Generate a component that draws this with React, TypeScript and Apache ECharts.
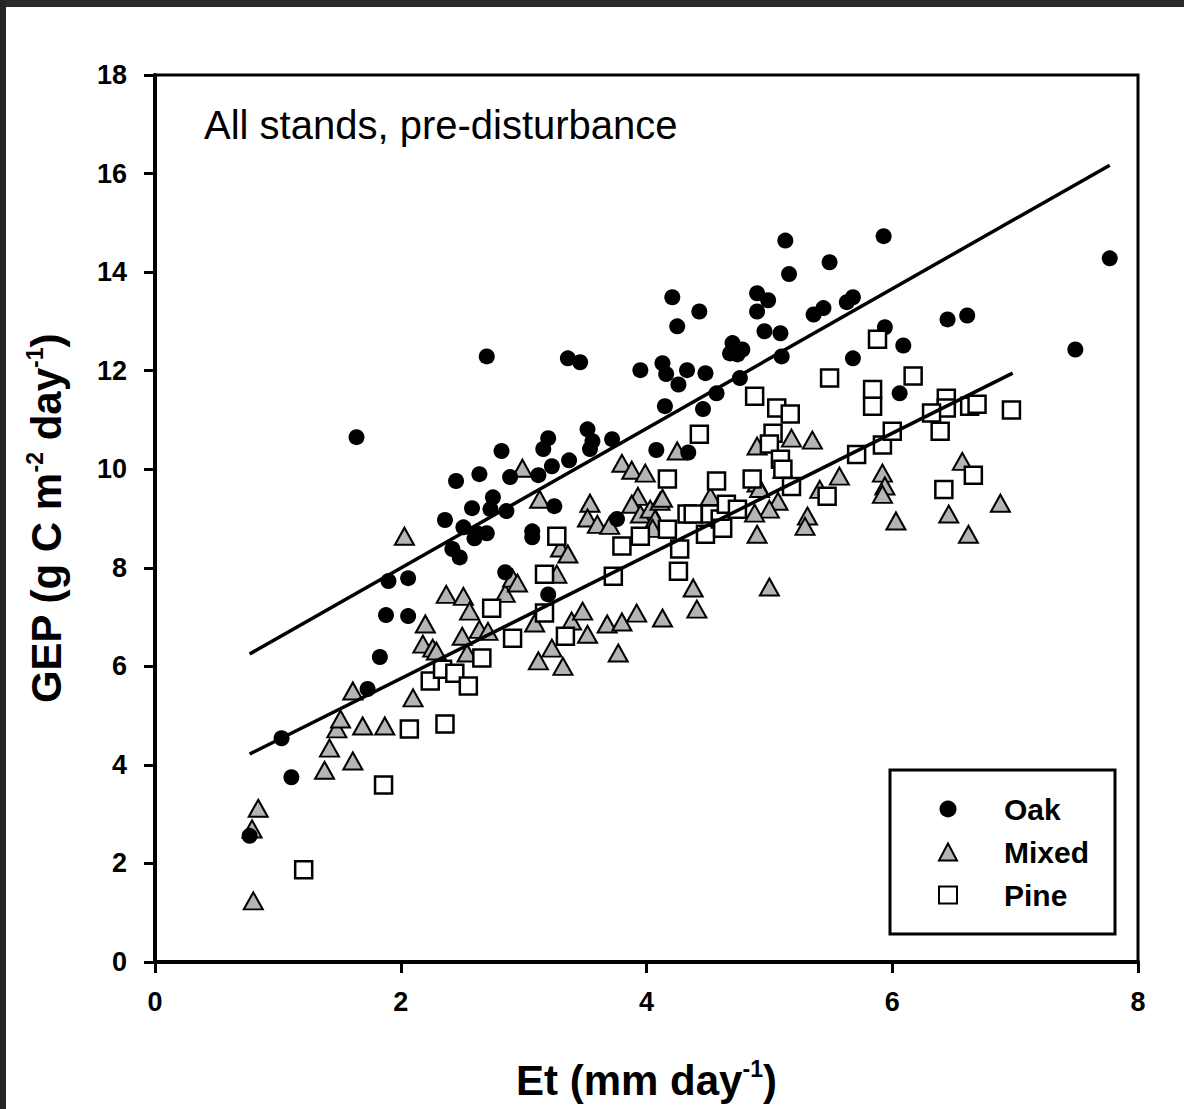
import React, { useEffect, useRef } from "react";
import * as echarts from "echarts";

// ---- Data (Et, GEP) ----
const oak: [number, number][] = [
  [0.77, 2.56], [1.03, 4.54], [1.11, 3.75], [1.64, 10.65], [1.73, 5.54], [1.83, 6.19],
  [1.88, 7.04], [1.9, 7.73], [2.06, 7.79], [2.06, 7.02], [2.36, 8.97], [2.45, 9.76],
  [2.42, 8.38], [2.48, 8.21], [2.51, 8.82], [2.58, 9.21], [2.62, 8.7], [2.7, 8.7],
  [2.6, 8.6], [2.64, 9.9], [2.7, 12.29], [2.75, 9.43], [2.73, 9.19], [2.82, 10.37],
  [2.85, 7.91], [2.89, 9.84], [2.86, 9.15], [3.12, 9.88], [3.07, 8.74], [3.07, 8.62],
  [3.16, 10.41], [3.2, 10.63], [3.2, 7.46], [3.25, 9.25], [3.23, 10.06], [3.36, 12.25],
  [3.46, 12.17], [3.37, 10.18], [3.52, 10.81], [3.54, 10.41], [3.56, 10.57], [3.72, 10.61],
  [3.76, 8.99], [3.95, 12.01], [4.08, 10.39], [4.13, 12.15], [4.15, 11.28], [4.16, 11.93],
  [4.21, 13.49], [4.25, 12.9], [4.26, 11.72], [4.33, 12.01], [4.34, 10.34], [4.43, 13.2],
  [4.46, 11.22], [4.48, 11.95], [4.57, 11.54], [4.7, 12.56], [4.68, 12.35], [4.74, 12.33],
  [4.76, 11.85], [4.78, 12.43], [4.9, 13.57], [4.9, 13.2], [4.99, 13.43], [4.96, 12.8],
  [5.09, 12.76], [5.1, 12.29], [5.13, 14.64], [5.16, 13.96], [5.36, 13.14], [5.44, 13.27],
  [5.49, 14.2], [5.63, 13.39], [5.68, 13.49], [5.68, 12.25], [5.93, 14.73], [5.94, 12.88],
  [6.06, 11.54], [6.09, 12.51], [6.45, 13.04], [6.61, 13.12], [7.49, 12.43], [7.77, 14.28]
];

const mixed: [number, number][] = [
  [0.8, 1.24], [0.84, 3.12], [0.79, 2.7], [1.38, 3.89], [1.42, 4.34], [1.48, 4.73],
  [1.51, 4.93], [1.61, 5.5], [1.61, 4.08], [1.69, 4.79], [1.87, 4.79], [2.03, 8.64],
  [2.1, 5.36], [2.2, 6.86], [2.18, 6.45], [2.26, 6.37], [2.29, 6.31], [2.37, 7.46],
  [2.51, 7.42], [2.56, 7.12], [2.5, 6.61], [2.54, 6.27], [2.64, 6.75], [2.71, 6.71],
  [2.85, 7.48], [2.91, 7.79], [2.95, 7.69], [2.99, 10.02], [3.13, 9.39], [3.09, 6.88],
  [3.12, 6.11], [3.23, 6.37], [3.32, 6.0], [3.27, 7.87], [3.3, 8.4], [3.36, 8.28],
  [3.39, 6.92], [3.48, 7.12], [3.52, 6.65], [3.54, 9.31], [3.52, 9.01], [3.6, 8.88],
  [3.7, 8.86], [3.68, 6.86], [3.77, 6.27], [3.8, 6.9], [3.8, 10.12], [3.88, 9.98],
  [3.99, 9.92], [3.92, 7.08], [3.93, 9.45], [3.88, 9.29], [3.95, 9.09], [4.03, 9.19],
  [4.11, 9.35], [4.13, 9.41], [4.07, 8.99], [4.05, 8.8], [4.13, 6.98], [4.25, 10.37],
  [4.38, 7.59], [4.41, 7.16], [4.52, 9.45], [4.9, 8.68], [5.0, 7.61], [4.9, 10.47],
  [5.18, 10.63], [5.35, 10.59], [5.11, 10.0], [4.9, 9.72], [4.92, 9.61], [5.07, 9.35],
  [5.0, 9.19], [4.88, 9.11], [5.31, 9.05], [5.29, 8.84], [5.41, 9.59], [5.57, 9.86],
  [5.92, 9.92], [5.94, 9.66], [5.92, 9.49], [6.03, 8.95], [6.57, 10.16], [6.46, 9.09],
  [6.62, 8.68], [6.88, 9.31]
];

const pine: [number, number][] = [
  [1.21, 1.87], [1.86, 3.59], [2.07, 4.73], [2.36, 4.83], [2.24, 5.7], [2.34, 5.94],
  [2.44, 5.86], [2.55, 5.6], [2.66, 6.17], [2.74, 7.18], [2.91, 6.57], [3.17, 7.08],
  [3.34, 6.61], [3.17, 7.87], [3.27, 8.64], [3.73, 7.83], [3.8, 8.44], [3.95, 8.64],
  [4.17, 9.8], [4.17, 8.78], [4.26, 7.93], [4.27, 8.38], [4.33, 9.09], [4.38, 9.09],
  [4.43, 10.71], [4.48, 8.68], [4.52, 9.09], [4.57, 9.76], [4.6, 8.99], [4.62, 8.8],
  [4.65, 9.29], [4.74, 9.19], [4.86, 9.8], [4.88, 11.48], [5.06, 11.24], [5.17, 11.12],
  [5.03, 10.73], [5.0, 10.51], [5.09, 10.2], [5.11, 10.0], [5.18, 9.65], [5.47, 9.45],
  [5.71, 10.3], [5.49, 11.85], [5.88, 12.64], [5.84, 11.62], [5.84, 11.28], [5.92, 10.49],
  [6.0, 10.77], [6.17, 11.89], [6.44, 11.44], [6.44, 11.24], [6.32, 11.14], [6.39, 10.77],
  [6.42, 9.59], [6.63, 11.28], [6.69, 11.32], [6.66, 9.88], [6.97, 11.2]
];

// Regression lines (end points)
const oakFit: [number, number][] = [[0.77, 6.25], [7.77, 16.17]];
const mixedPineFit: [number, number][] = [[0.77, 4.22], [6.98, 11.95]];

const seriesNames = ["Oak", "Mixed", "Pine"];
const titleText = "All stands, pre-disturbance";

const FONT = "Arial, 'Liberation Sans', Helvetica, sans-serif";

export default function App() {
  const ref = useRef<HTMLDivElement>(null);

  useEffect(() => {
    if (!ref.current) return;
    const chart = echarts.init(ref.current, null, { renderer: "svg" });
    const axisCommon = {
      axisLine: { show: true, lineStyle: { color: "#000", width: 4 } },
      axisTick: { show: true, inside: false, length: 11, lineStyle: { color: "#000", width: 3 } },
      splitLine: { show: false },
    };
    const nameRich = {
      b: { fontFamily: FONT, fontSize: 42, fontWeight: "bold", color: "#000", lineHeight: 46, verticalAlign: "middle" },
      s: { fontFamily: FONT, fontSize: 23, fontWeight: "bold", color: "#000", lineHeight: 22, verticalAlign: "top" },
    };
    chart.setOption({
      animation: false,
      backgroundColor: "#fff",
      title: {
        text: titleText,
        left: 204,
        top: 105,
        padding: 0,
        textStyle: { fontFamily: FONT, fontSize: 40, fontWeight: "normal", color: "#000" },
      },
      grid: {
        left: 155,
        top: 75,
        right: 46,
        bottom: 147,
        show: true,
        borderColor: "#000",
        borderWidth: 3,
        containLabel: false,
      },
      xAxis: {
        type: "value",
        min: 0,
        max: 8,
        interval: 2,
        ...axisCommon,
        axisLabel: {
          margin: 26,
          color: "#000",
          fontFamily: FONT,
          fontSize: 27,
          fontWeight: "bold",
        },
        name: "{b|Et (mm day}{s|-1}{b|)}",
        nameLocation: "middle",
        nameGap: 95,
        nameTextStyle: { rich: nameRich },
      },
      yAxis: {
        type: "value",
        min: 0,
        max: 18,
        interval: 2,
        ...axisCommon,
        axisLabel: {
          margin: 28,
          color: "#000",
          fontFamily: FONT,
          fontSize: 27,
          fontWeight: "bold",
        },
        name: "{b|GEP (g C m}{s|-2}{b| day}{s|-1}{b|)}",
        nameLocation: "middle",
        nameRotate: 90,
        nameGap: 86,
        nameTextStyle: { rich: nameRich },
      },
      legend: {
        data: seriesNames,
        orient: "vertical",
        left: 938,
        top: 794,
        padding: 0,
        itemGap: 13,
        itemWidth: 18,
        itemHeight: 17,
        selectedMode: false,
        textStyle: {
          fontFamily: FONT,
          fontSize: 30,
          fontWeight: "bold",
          color: "#000",
          padding: [0, 0, 0, 42],
        },
      },
      graphic: [
        {
          type: "rect",
          shape: { x: 890, y: 770, width: 225, height: 164 },
          style: { fill: "none", stroke: "#000", lineWidth: 3 },
          z: 10,
        },
        { type: "rect", shape: { x: 0, y: 0, width: 1184, height: 7 }, style: { fill: "#2b2b2b" }, z: 20 },
        { type: "rect", shape: { x: 0, y: 0, width: 6, height: 1109 }, style: { fill: "#252525" }, z: 20 },
      ],
      series: [
        {
          name: "Oak",
          type: "scatter",
          data: oak,
          symbol: "circle",
          symbolSize: 16,
          itemStyle: { color: "#000", opacity: 1 },
          z: 3,
        },
        {
          name: "Mixed",
          type: "scatter",
          data: mixed,
          symbol: "triangle",
          symbolSize: [19, 17],
          itemStyle: { color: "#b4b4b4", borderColor: "#000", borderWidth: 2, opacity: 1 },
          z: 2,
        },
        {
          name: "Pine",
          type: "scatter",
          data: pine,
          symbol: "rect",
          symbolSize: 17,
          itemStyle: { color: "#fff", borderColor: "#000", borderWidth: 2.5, opacity: 1 },
          z: 4,
        },
        {
          type: "line",
          data: oakFit,
          showSymbol: false,
          symbol: "none",
          lineStyle: { color: "#000", width: 3.5 },
          z: 5,
          silent: true,
        },
        {
          type: "line",
          data: mixedPineFit,
          showSymbol: false,
          symbol: "none",
          lineStyle: { color: "#000", width: 3.5 },
          z: 5,
          silent: true,
        },
      ],
    });
    return () => chart.dispose();
  }, []);

  return (
    <div
      ref={ref}
      style={{ position: "absolute", left: 0, top: 0, width: 1184, height: 1109, background: "#fff" }}
    />
  );
}
